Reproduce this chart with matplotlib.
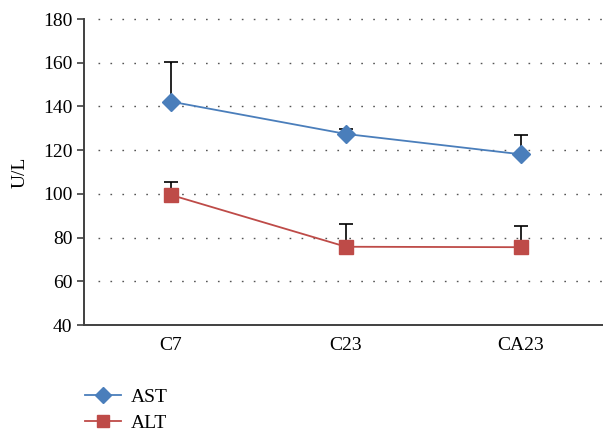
import matplotlib
matplotlib.use("Agg")
import matplotlib.pyplot as plt
import numpy as np

groups = ["C7", "C23", "CA23"]
ast_mean = [142.2, 127.4, 118.1]
ast_err = [18.1, 2.3, 9.0]
alt_mean = [99.5, 75.8, 75.6]
alt_err = [5.8, 10.4, 9.8]
y_ticks = [40, 60, 80, 100, 120, 140, 160, 180]

plt.rcParams["font.family"] = ["Liberation Serif", "DejaVu Serif"]
FS = 14

W, H = 603, 432
fig = plt.figure(figsize=(W / 100, H / 100), dpi=100)
left_px, right_px, top_px, bottom_px = 83.5, 603, 19, 325
ax = fig.add_axes([left_px / W, 1 - bottom_px / H,
                   (right_px - left_px) / W, (bottom_px - top_px) / H])

slot = 175.0
x = np.arange(len(groups)) + 0.5
ax.set_xlim(0, (right_px - left_px) / slot)
ax.set_ylim(40, 180)
ax.set_yticks(y_ticks)
ax.set_xticks(x)
ax.set_xticklabels(groups)

for v in y_ticks[1:]:
    ax.plot([0.08, ax.get_xlim()[1]], [v, v], color="#555555", lw=1.0,
            linestyle=(0, (1.2, 7.4)), zorder=0, clip_on=False)

blue = "#4a7ebb"
red = "#be4b48"

ax.errorbar(x, ast_mean, yerr=[np.zeros(3), ast_err], fmt="none",
            ecolor="black", elinewidth=1.2, capsize=5, capthick=1.2, zorder=2)
ax.errorbar(x, alt_mean, yerr=[np.zeros(3), alt_err], fmt="none",
            ecolor="black", elinewidth=1.2, capsize=5, capthick=1.2, zorder=2)

ax.plot(x, ast_mean, color=blue, lw=1.3, marker="D", markersize=9.5,
        markerfacecolor=blue, markeredgecolor=blue, label="AST", zorder=3)
ax.plot(x, alt_mean, color=red, lw=1.3, marker="s", markersize=10,
        markerfacecolor=red, markeredgecolor=red, label="ALT", zorder=3)

for s in ["top", "right"]:
    ax.spines[s].set_visible(False)
for s in ["left", "bottom"]:
    ax.spines[s].set_color("#404040")
    ax.spines[s].set_linewidth(1.4)

ax.tick_params(axis="y", direction="out", length=5, width=1.2, color="#404040",
               pad=3, labelsize=FS)
ax.tick_params(axis="x", length=0, pad=9, labelsize=FS)
ax.set_ylabel("U/L", fontsize=FS, labelpad=10)

fig.legend(loc="lower left", bbox_to_anchor=(77 / W, -8 / H), frameon=False,
           handlelength=1.85, handletextpad=0.5, labelspacing=0.45,
           fontsize=FS, borderaxespad=0, markerscale=0.85)

fig.savefig("out.png", dpi=100)
